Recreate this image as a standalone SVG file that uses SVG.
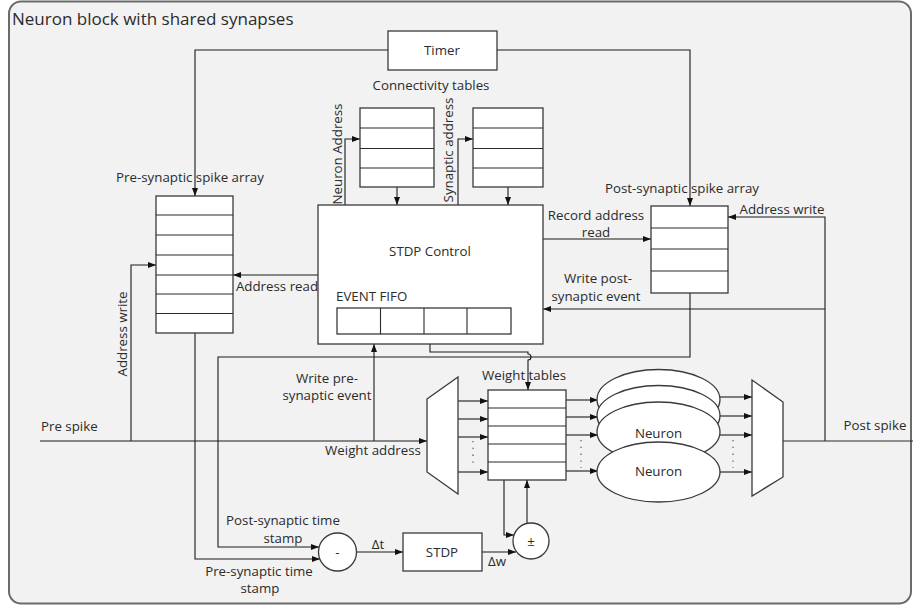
<svg xmlns="http://www.w3.org/2000/svg" width="913" height="606" viewBox="0 0 913 606">
<defs>
<marker id="ah" markerUnits="userSpaceOnUse" markerWidth="9" markerHeight="7" refX="8" refY="3" orient="auto">
<path d="M0,0 L8,3 L0,6 z" fill="#111"/>
</marker>
<style>
.box{fill:#fff;stroke:#3a3a3a;stroke-width:1.3}
.ln{fill:none;stroke:#2a2a2a;stroke-width:1.1}
.arr{fill:none;stroke:#1a1a1a;stroke-width:1.1;marker-end:url(#ah)}
.dot{fill:none;stroke:#555;stroke-width:1.2;stroke-dasharray:1.3 5.5}
text{font-family:"Open Sans","Liberation Sans",sans-serif;font-size:13.3px;fill:#2b2b2b;dominant-baseline:central;text-anchor:middle}
.title{font-size:17px;text-anchor:start}
</style>
</defs>
<rect x="9" y="1.5" width="902" height="602" rx="12" fill="#f2f2f2" stroke="#6b6b6b" stroke-width="2"/>
<text class="title" x="12" y="18">Neuron block with shared synapses</text>

<g id="connectors">
<path class="arr" d="M388,50 H195 V196"/>
<path class="arr" d="M497,50 H690 V206"/>
<path class="arr" d="M345,205 V139 H360"/>
<path class="arr" d="M458,205 V139 H473"/>
<path class="arr" d="M397,187 V205"/>
<path class="arr" d="M508,187 V205"/>
<path class="arr" d="M318,275 H233"/>
<path class="arr" d="M543,239 H651"/>
<path class="arr" d="M825,441 V217 H728"/>
<path class="arr" d="M825,309 H543"/>
<path class="arr" d="M40,441 H427"/>
<path class="arr" d="M131,441 V265 H156"/>
<path class="arr" d="M374,441 V344"/>
<path class="arr" d="M690,293 V357 H218 V547 H319"/>
<path class="arr" d="M195,333 V559 H320"/>
<path class="arr" d="M430,344 V352 H528 V354 a3,3 0 0 1 0,6 V390"/>
<path class="arr" d="M458,401 H488"/>
<path class="arr" d="M458,419 H488"/>
<path class="arr" d="M458,437 H488"/>
<path class="arr" d="M458,472 H488"/>
<path class="arr" d="M566,400 H598"/>
<path class="arr" d="M566,417 H598"/>
<path class="arr" d="M566,435 H598"/>
<path class="arr" d="M566,471 H598"/>
<path class="arr" d="M720,397 H752"/>
<path class="arr" d="M720,416 H752"/>
<path class="arr" d="M720,435 H752"/>
<path class="arr" d="M720,472 H752"/>
<path class="ln" d="M783,441 H913"/>
<path class="arr" d="M504,480 V535 H514"/>
<path class="arr" d="M527,523 V480"/>
<path class="arr" d="M357,552 H403"/>
<path class="arr" d="M482,552 H516"/>
<path class="dot" d="M473,441 V468"/>
<path class="dot" d="M581,440 V468"/>
<path class="dot" d="M733,440 V468"/>
</g>

<g id="timer">
<rect class="box" x="388" y="31" width="109" height="39"/>
<text x="442" y="50">Timer</text>
</g>

<g id="connectivity-tables">
<text x="431" y="85">Connectivity tables</text>
<rect class="box" x="360" y="108" width="74" height="79"/>
<path class="ln" d="M360,128 H434 M360,148.5 H434 M360,168 H434"/>
<rect class="box" x="473" y="108" width="70" height="79"/>
<path class="ln" d="M473,128 H543 M473,148.5 H543 M473,168 H543"/>
<text transform="translate(336.5,154) rotate(-90)" x="0" y="0">Neuron Address</text>
<text transform="translate(448,150) rotate(-90)" x="0" y="0">Synaptic address</text>
</g>

<g id="pre-array">
<text x="190" y="177">Pre-synaptic spike array</text>
<rect class="box" x="156" y="196" width="77" height="137"/>
<path class="ln" d="M156,215 H233 M156,235 H233 M156,255 H233 M156,275 H233 M156,294 H233 M156,313.5 H233"/>
<text transform="translate(122,334) rotate(-90)" x="0" y="0">Address write</text>
<text x="277" y="286">Address read</text>
</g>

<g id="stdp-control">
<rect class="box" x="318" y="205" width="225" height="139"/>
<text x="430" y="251">STDP Control</text>
<text x="336" y="296" style="text-anchor:start">EVENT FIFO</text>
<rect class="box" x="337" y="308" width="174" height="26"/>
<path class="ln" d="M380.5,308 V334 M424,308 V334 M467,308 V334"/>
</g>

<g id="post-array">
<text x="682" y="188">Post-synaptic spike array</text>
<rect class="box" x="651" y="206" width="77" height="87"/>
<path class="ln" d="M651,228 H728 M651,249 H728 M651,271 H728"/>
<text x="782" y="209">Address write</text>
<text x="596" y="215">Record address</text>
<text x="596" y="232">read</text>
<text x="598" y="278">Write post-</text>
<text x="596" y="296">synaptic event</text>
</g>

<g id="labels">
<text x="41" y="426" style="text-anchor:start">Pre spike</text>
<text x="327" y="378">Write pre-</text>
<text x="327" y="395">synaptic event</text>
<text x="373" y="450">Weight address</text>
<text x="875" y="425">Post spike</text>
</g>

<g id="in-mux">
<polygon class="box" points="427,399 458,377 458,494 427,472"/>
</g>

<g id="weight-tables">
<text x="524" y="375">Weight tables</text>
<rect class="box" x="488" y="390" width="78" height="90"/>
<path class="ln" d="M488,408 H566 M488,426 H566 M488,444 H566 M488,462 H566"/>
</g>

<g id="neurons">
<ellipse class="box" cx="658.5" cy="399.5" rx="61.5" ry="30"/>
<ellipse class="box" cx="658.5" cy="415.5" rx="61.5" ry="30"/>
<ellipse class="box" cx="658.5" cy="432" rx="61.5" ry="30"/>
<text x="658.5" y="433">Neuron</text>
<ellipse class="box" cx="658.5" cy="472" rx="61.5" ry="30"/>
<text x="658.5" y="471">Neuron</text>
</g>

<g id="out-mux">
<polygon class="box" points="752,380 783,402 783,477 752,496"/>
</g>

<g id="subtract">
<circle class="box" cx="337.5" cy="552" r="19"/>
<text x="337.5" y="552">-</text>
<text x="283" y="520">Post-synaptic time</text>
<text x="283" y="538">stamp</text>
<text x="259" y="571">Pre-synaptic time</text>
<text x="260" y="588">stamp</text>
<text x="378" y="544">Δt</text>
</g>

<g id="stdp">
<rect class="box" x="403" y="533" width="79" height="38"/>
<text x="442" y="552">STDP</text>
<text x="497" y="561">Δw</text>
</g>

<g id="plusminus">
<circle class="box" cx="531" cy="541" r="18"/>
<text x="531" y="541">±</text>
</g>
</svg>
